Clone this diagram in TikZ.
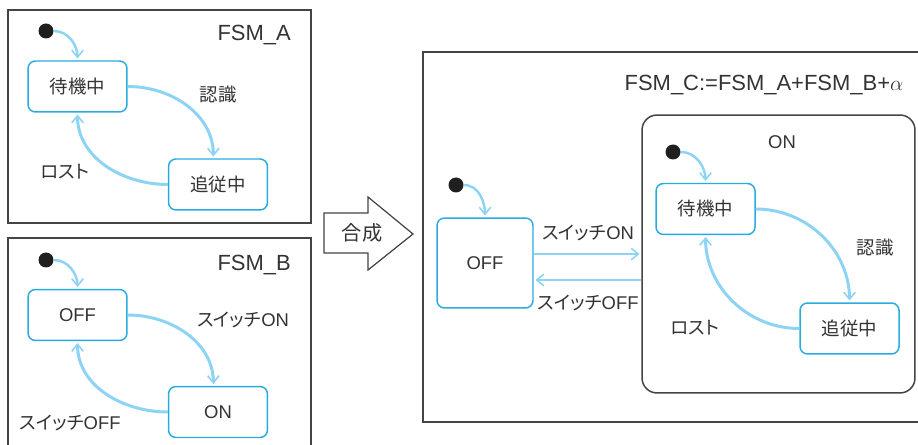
\documentclass[tikz,border=0pt]{standalone}
\usepackage{fontspec}
\setmainfont{Liberation Sans}
\newfontfamily\jpfont[RawFeature=+palt]{Noto Sans CJK JP}
\usetikzlibrary{arrows.meta,calc}
\definecolor{statecol}{HTML}{29ABE2}
\definecolor{transcol}{HTML}{8DD3F4}
\definecolor{framecol}{HTML}{444444}
\definecolor{textcol}{HTML}{333333}
\begin{document}
\begin{tikzpicture}[x=0.02cm,y=0.02cm,
  font=\fontsize{10.5}{12.6}\selectfont,text=textcol,
  frame/.style={draw=framecol,line width=0.85pt},
  title/.style={font=\fontsize{12.5}{15}\selectfont},
  state/.style={draw=statecol,line width=0.85pt,rounded corners=0.15cm,
    minimum width=1.98cm,minimum height=1.02cm},
  startdot/.style={circle,fill=black!88,minimum size=0.3cm,inner sep=0pt},
  trans/.style={draw=transcol,line width=1.7pt,shorten >=1pt,
    -{Straight Barb[length=4pt,width=6.5pt,line width=0.9pt]}},
  init/.style={trans,line width=1.4pt}]
  \clip (0,0) rectangle (918,-445);
  % FSM_A
  \draw[frame] (8,-10) rectangle (311,-223);
  \node[title,anchor=east] (nameA) at (297,-35) {FSM\_A};
  \node[startdot] (dotA) at (46,-31) {};
  \node[state] (waitA) at (77.5,-86.5) {\jpfont 待機中};
  \node[state] (trackA) at (218,-184.5) {\jpfont 追従中};
  \draw[init] (dotA) to[out=0,in=90] (waitA.north);
  \draw[trans] (waitA.east) to[out=0,in=90] (trackA.100);
  \draw[trans] (trackA.west) to[out=180,in=-90] (waitA.south);
  \node (detectA) at (218,-95) {\jpfont 認識};
  \node (lostA) at (65,-172) {\jpfont ロスト};
  % FSM_B
  \draw[frame] (8,-238) rectangle (311,-480);
  \node[title,anchor=east] (nameB) at (297,-265) {FSM\_B};
  \node[startdot] (dotB) at (46,-260) {};
  \node[state] (offB) at (77.5,-315) {OFF};
  \node[state] (onB) at (218,-412) {ON};
  \draw[init] (dotB) to[out=0,in=90] (offB.north);
  \draw[trans] (offB.east) to[out=0,in=90] (onB.100);
  \draw[trans] (onB.west) to[out=180,in=-90] (offB.south);
  \node (swonB) at (243,-320) {{\jpfont スイッチ}ON};
  \node (swoffB) at (70,-423) {{\jpfont スイッチ}OFF};
  % 合成
  \draw[frame,line width=0.7pt] (324,-213) -- (368,-213) -- (368,-197) -- (413,-234)
    -- (368,-270) -- (368,-253) -- (324,-253) -- cycle;
  \node[font=\jpfont\fontsize{11.5}{14}\selectfont] (merge) at (362,-233) {合成};
  % FSM_C
  \draw[frame] (423,-52) rectangle (950,-422);
  \node[title] (nameC) at (764,-85) {FSM\_C:=FSM\_A+FSM\_B+$\alpha$};
  \node[startdot] (dotC) at (456,-185) {};
  \node[state,minimum width=1.92cm,minimum height=1.8cm] (offC) at (485,-263) {OFF};
  \node[frame,rounded corners=0.3cm,minimum width=5.46cm,minimum height=5.56cm] (onC) at (778.5,-254) {};
  \node (nameOn) at (782,-142) {ON};
  \draw[init] (dotC) to[out=0,in=90] (offC.north);
  \draw[trans] (onC.west -| offC.east) -- (onC.west);
  \draw[trans] ($(onC.west)+(0,-26)$) -- ($(onC.west -| offC.east)+(0,-26)$);
  \node (swonC) at (588,-233) {{\jpfont スイッチ}ON};
  \node (swoffC) at (588,-303) {{\jpfont スイッチ}OFF};
  \node[startdot] (dotIn) at (673,-152) {};
  \node[state] (waitC) at (705.5,-209) {\jpfont 待機中};
  \node[state] (trackC) at (849.5,-328.5) {\jpfont 追従中};
  \draw[init] (dotIn) to[out=0,in=90] (waitC.north);
  \draw[trans] (waitC.east) to[out=0,in=90] (trackC.north);
  \draw[trans] (trackC.west) to[out=180,in=-90] (waitC.south);
  \node (detectC) at (875,-248) {\jpfont 認識};
  \node (lostC) at (695,-328) {\jpfont ロスト};
\end{tikzpicture}
\end{document}
